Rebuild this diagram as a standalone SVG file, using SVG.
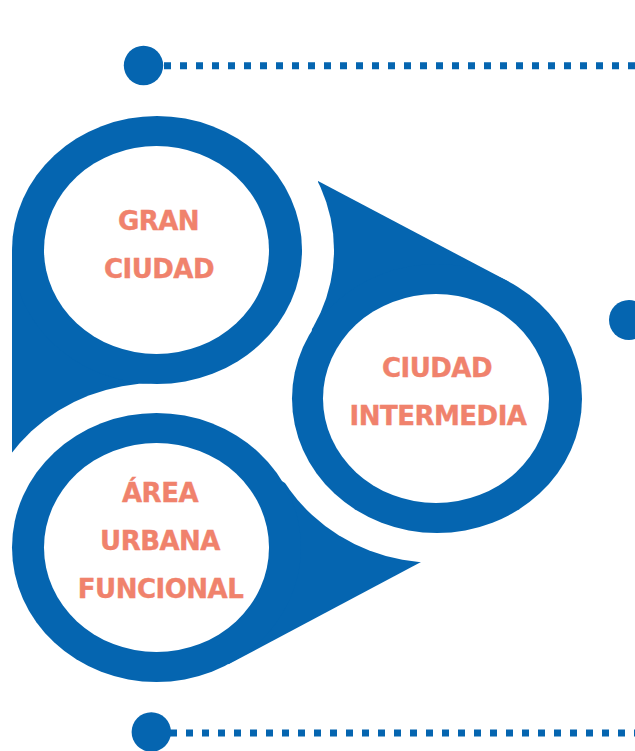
<svg xmlns="http://www.w3.org/2000/svg" width="635" height="751" viewBox="0 0 635 751">
<style>
.blue{fill:#0565b0}
.hole{fill:#ffffff}
.lbl{font-family:"DejaVu Sans","Liberation Sans",sans-serif;font-weight:bold;font-size:26px;letter-spacing:-0.5px;fill:#f0826c;stroke:#f0826c;stroke-width:0.4;text-anchor:middle}
.dots{stroke:#0565b0;stroke-width:7;stroke-dasharray:7 9;fill:none}
</style>
<defs>
<mask id="m-gran" maskUnits="userSpaceOnUse" x="0" y="0" width="635" height="751">
<rect x="0" y="0" width="635" height="751" fill="#fff"/>
<ellipse cx="156.5" cy="547.5" rx="177" ry="164.5" fill="#000"/>
</mask>
<mask id="m-inter" maskUnits="userSpaceOnUse" x="0" y="0" width="635" height="751">
<rect x="0" y="0" width="635" height="751" fill="#fff"/>
<ellipse cx="157" cy="250" rx="177" ry="164" fill="#000"/>
</mask>
<mask id="m-area" maskUnits="userSpaceOnUse" x="0" y="0" width="635" height="751">
<rect x="0" y="0" width="635" height="751" fill="#fff"/>
<ellipse cx="437" cy="398.5" rx="177" ry="164.5" fill="#000"/>
</mask>
</defs>
<rect x="0" y="0" width="635" height="751" fill="#ffffff"/>
<g id="connectors">
<circle class="blue" cx="143.5" cy="65.5" r="19.7"/>
<line class="dots" x1="164" y1="65.8" x2="640" y2="65.8"/>
<circle class="blue" cx="151.3" cy="732" r="19.7"/>
<line class="dots" x1="170" y1="733" x2="640" y2="733"/>
<circle class="blue" cx="629" cy="320" r="20"/>
</g>
<g id="gran-ciudad">
<polygon class="blue" points="12,453 12,250 157,250 157,380" mask="url(#m-gran)"/>
<ellipse class="blue" cx="157" cy="250" rx="145" ry="134"/>
<ellipse class="hole" cx="156.5" cy="250" rx="112.5" ry="104"/>
<text class="lbl" x="158.5" y="230">GRAN</text>
<text class="lbl" x="159" y="278">CIUDAD</text>
</g>
<g id="ciudad-intermedia">
<polygon class="blue" points="318,181 508.6,281.6 437,398.5 311.8,331.3" mask="url(#m-inter)"/>
<ellipse class="blue" cx="437" cy="398.5" rx="145" ry="134.5"/>
<ellipse class="hole" cx="436" cy="398.5" rx="113" ry="104.5"/>
<text class="lbl" x="437" y="377">CIUDAD</text>
<text class="lbl" x="438" y="425">INTERMEDIA</text>
</g>
<g id="area-urbana-funcional">
<polygon class="blue" points="421,562 228.5,664.3 156.5,547.5 281.2,480.8" mask="url(#m-area)"/>
<ellipse class="blue" cx="156.5" cy="547.5" rx="144.5" ry="134.5"/>
<ellipse class="hole" cx="156.5" cy="547.5" rx="112.5" ry="104.5"/>
<text class="lbl" x="160" y="502">ÁREA</text>
<text class="lbl" x="160" y="550">URBANA</text>
<text class="lbl" x="160.5" y="598">FUNCIONAL</text>
</g>
</svg>
